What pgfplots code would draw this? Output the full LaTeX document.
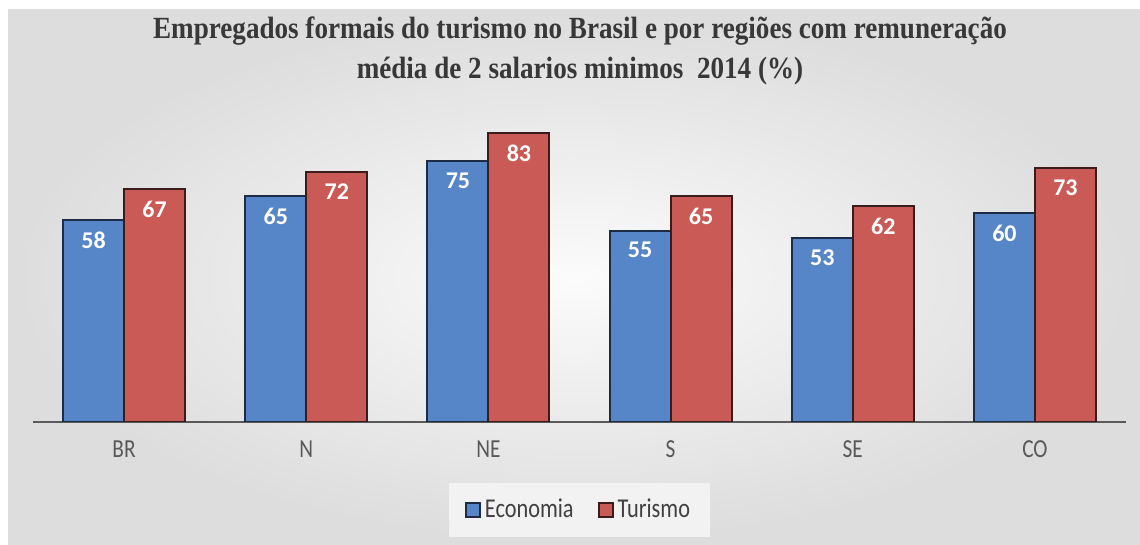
\documentclass[border=0pt]{standalone}
\usepackage{pgfplots}
\pgfplotsset{compat=1.18}
\usepackage{fontspec}
\setmainfont{Carlito}
\newfontfamily\sansc{Carlito}[FakeStretch=0.82]
\newfontfamily\titlef{Liberation Serif}[FakeStretch=0.88]
\definecolor{econ}{HTML}{5686C7}
\definecolor{tur}{HTML}{CA5A56}
\definecolor{econline}{HTML}{1E2B45}
\definecolor{turline}{HTML}{3A1C1C}
\definecolor{lbl}{HTML}{595959}
\begin{document}
\begin{tikzpicture}
\useasboundingbox (0,0) rectangle (570pt,272.5pt);
\fill[white] (0,0) rectangle (570pt,272.5pt);
\shade[inner color=gray!3, outer color=gray!27] (4pt,0) rectangle (570pt,267.5pt);
\node[align=center, font=\titlef\bfseries\fontsize{15.4}{20}\selectfont, text=black!78] at (290pt,247pt)
  {Empregados formais do turismo no Brasil e por regiões com remuneração\\média de 2 salarios minimos\ \ 2014 (\%)};
\begin{axis}[
  at={(16.5pt,61.5pt)}, anchor=south west,
  scale only axis, width=546.5pt, height=156.5pt,
  xmin=-0.5, xmax=5.5, ymin=0, ymax=90,
  axis x line*=bottom, axis y line=none,
  x axis line style={-, draw=black!65, line width=1.3pt},
  major tick length=0pt,
  xtick={0,...,5}, xticklabels={BR,N,NE,S,SE,CO},
  xticklabel style={font=\sansc\fontsize{13}{15}\selectfont, text=lbl, yshift=-6pt},
  ybar=0pt, bar width=30.5pt,
  /pgf/number format/assume math mode=true,
  nodes near coords,
  nodes near coords style={anchor=north, yshift=-2pt, text=white, font=\bfseries\fontsize{12}{14}\selectfont},
  legend image code/.code={\draw[#1] (0pt,-3.5pt) rectangle (7pt,3.5pt);},
  legend style={at={(0.5,-0.281)}, anchor=center, fill=gray!10, draw=none,
    legend columns=2, font=\sansc\fontsize{13.6}{15}\selectfont, text=black!75,
    inner xsep=8pt, inner ysep=6pt,
    /tikz/every even column/.append style={column sep=10pt}},
]
\addplot[fill=econ, draw=econline, line width=1pt] coordinates {(0,58)(1,65)(2,75)(3,55)(4,53)(5,60)};
\addplot[fill=tur, draw=turline, line width=1pt] coordinates {(0,67)(1,72)(2,83)(3,65)(4,62)(5,73)};
\legend{Economia,Turismo}
\end{axis}
\end{tikzpicture}
\end{document}
